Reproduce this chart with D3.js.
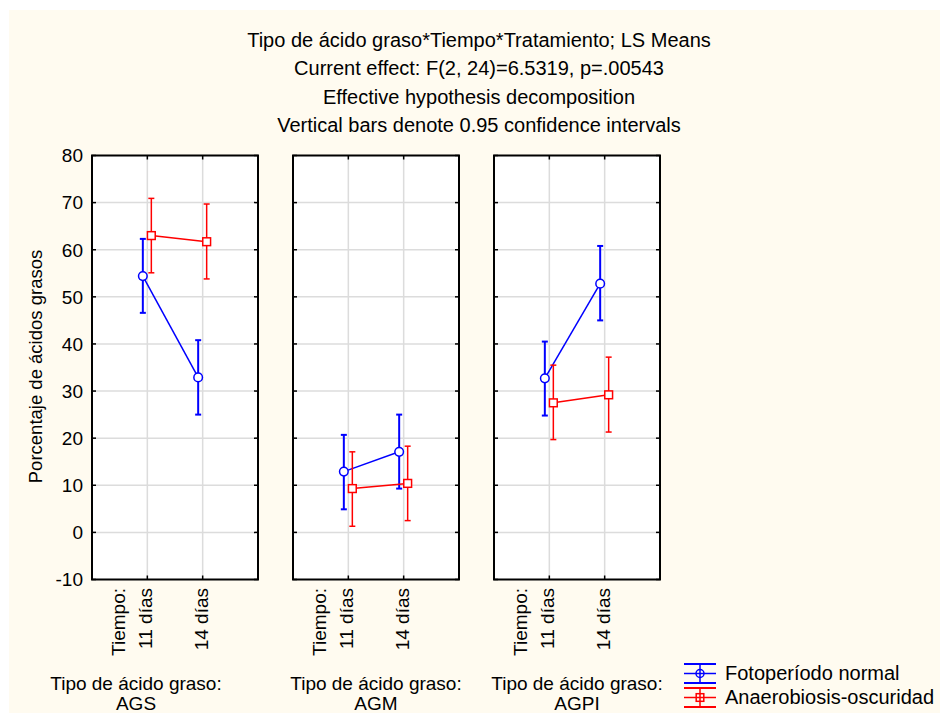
<!DOCTYPE html>
<html>
<head>
<meta charset="utf-8">
<script src="https://cdn.jsdelivr.net/npm/d3@7"></script>
<style>
  html, body { margin: 0; padding: 0; background: #ffffff; }
  svg { display: block; }
  text { font-family: "Liberation Sans", Arial, sans-serif; fill: #000; }
</style>
</head>
<body>
<svg id="chart" width="940" height="713"></svg>
<script>
// Fatty acid type x time x treatment, least-squares means with 0.95 CIs
const titleLines = [
  "Tipo de ácido graso*Tiempo*Tratamiento; LS Means",
  "Current effect: F(2, 24)=6.5319, p=.00543",
  "Effective hypothesis decomposition",
  "Vertical bars denote 0.95 confidence intervals"
];
const tipos = ["AGS", "AGM", "AGPI"];
const tiempos = ["11 días", "14 días"];
const tratamientos = ["Fotoperíodo normal", "Anaerobiosis-oscuridad"];
const yTicks = [-10, 0, 10, 20, 30, 40, 50, 60, 70, 80];

// values ordered AGS(11,14), AGM(11,14), AGPI(11,14)
const mediaFoto  = [54.4, 32.9, 12.9, 17.1, 32.7, 52.8];
const infFoto    = [46.6, 25.0,  4.9,  9.3, 24.8, 45.0];
const supFoto    = [62.3, 40.8, 20.7, 25.0, 40.5, 60.8];
const mediaAnaer = [63.0, 61.7,  9.3, 10.4, 27.5, 29.2];
const infAnaer   = [55.1, 53.8,  1.3,  2.5, 19.7, 21.3];
const supAnaer   = [70.9, 69.7, 17.1, 18.3, 35.5, 37.2];

const series = [
  { name: tratamientos[0], color: "#0000ff", shape: "circle", dx: -4.5, barW: 2, lineW: 1.5,
    mean: mediaFoto, lo: infFoto, hi: supFoto },
  { name: tratamientos[1], color: "#ff0000", shape: "square", dx: 4, barW: 1.5, lineW: 1.5,
    mean: mediaAnaer, lo: infAnaer, hi: supAnaer }
];

const svg = d3.select("#chart");

// cream page background
svg.append("rect").attr("x", 9).attr("y", 10).attr("width", 931).attr("height", 703)
  .attr("fill", "#fffbf0");

// title block
svg.append("g").selectAll("text").data(titleLines).join("text")
  .attr("x", 479).attr("y", (d, i) => 47 + i * 28.3)
  .attr("text-anchor", "middle").style("font-size", "20px")
  .text(d => d);

const plotTop = 155.5, plotBottom = 579.5;
const panelW = 166, panelStep = 201, panelX0 = 92;
const y = d3.scaleLinear().domain([-10, 80]).range([plotBottom, plotTop]);
const panelScale = d3.scaleBand().domain(tipos).range([panelX0, panelX0 + panelStep * tipos.length]);

tipos.forEach((tipo, p) => {
  const left = panelScale(tipo);
  const right = left + panelW;
  const x = d3.scalePoint().domain(tiempos).range([left, right]).padding(1);
  const g = svg.append("g");

  g.append("rect").attr("x", left).attr("y", plotTop).attr("width", panelW).attr("height", plotBottom - plotTop)
    .attr("fill", "#ffffff");

  // grid
  g.append("g").selectAll("line").data(yTicks.slice(1, -1)).join("line")
    .attr("x1", left).attr("x2", right).attr("y1", d => y(d)).attr("y2", d => y(d))
    .attr("stroke", "#dcdcdc").attr("stroke-width", 1.5);
  g.append("g").selectAll("line").data(tiempos).join("line")
    .attr("x1", d => x(d)).attr("x2", d => x(d)).attr("y1", plotTop).attr("y2", plotBottom)
    .attr("stroke", "#dcdcdc").attr("stroke-width", 1.5);

  // inward ticks on every side
  const tk = g.append("g").attr("stroke", "#000").attr("stroke-width", 1.5);
  tk.selectAll(".tl").data(yTicks).join("line").attr("class", "tl")
    .attr("x1", left).attr("x2", left + 4).attr("y1", d => y(d)).attr("y2", d => y(d));
  tk.selectAll(".tr").data(yTicks).join("line").attr("class", "tr")
    .attr("x1", right - 4).attr("x2", right).attr("y1", d => y(d)).attr("y2", d => y(d));
  tk.selectAll(".tb").data(tiempos).join("line").attr("class", "tb")
    .attr("x1", d => x(d)).attr("x2", d => x(d)).attr("y1", plotBottom).attr("y2", plotBottom - 4);
  tk.selectAll(".tt").data(tiempos).join("line").attr("class", "tt")
    .attr("x1", d => x(d)).attr("x2", d => x(d)).attr("y1", plotTop).attr("y2", plotTop + 4);

  // frame
  g.append("rect").attr("x", left).attr("y", plotTop).attr("width", panelW).attr("height", plotBottom - plotTop)
    .attr("fill", "none").attr("stroke", "#000").attr("stroke-width", 2);

  // y tick labels on the first panel
  if (p === 0) {
    g.append("g").selectAll("text").data(yTicks).join("text")
      .attr("x", left - 9).attr("y", d => y(d)).attr("dy", "0.36em")
      .attr("text-anchor", "end").style("font-size", "19px")
      .text(d => d);
  }

  // rotated category labels
  const lab = g.append("g").style("font-size", "19px");
  lab.append("text")
    .attr("transform", `translate(${x(tiempos[0]) - 29},${plotBottom + 8.5}) rotate(-90)`)
    .attr("dy", "0.36em").attr("text-anchor", "end").text("Tiempo:");
  lab.selectAll(".cat").data(tiempos).join("text").attr("class", "cat")
    .attr("transform", d => `translate(${x(d) - 2},${plotBottom + 8.5}) rotate(-90)`)
    .attr("dy", "0.36em").attr("text-anchor", "end").text(d => d);

  // panel factor label
  const cx = p === 0 ? left + 44 : left + panelW / 2;
  g.append("text").attr("x", cx).attr("y", 690).attr("text-anchor", "middle")
    .style("font-size", "19px").text("Tipo de ácido graso:");
  g.append("text").attr("x", cx).attr("y", 710).attr("text-anchor", "middle")
    .style("font-size", "19px").text(tipo);

  // series
  series.forEach(s => {
    const pts = tiempos.map((t, j) => ({
      x: x(t) + s.dx,
      m: s.mean[p * 2 + j], lo: s.lo[p * 2 + j], hi: s.hi[p * 2 + j]
    }));
    const sg = g.append("g");
    sg.append("path")
      .attr("d", d3.line().x(d => d.x).y(d => y(d.m))(pts))
      .attr("fill", "none").attr("stroke", s.color).attr("stroke-width", s.lineW);
    const eb = sg.append("g").attr("stroke", s.color).attr("stroke-width", s.barW);
    eb.selectAll(".v").data(pts).join("line").attr("class", "v")
      .attr("x1", d => d.x).attr("x2", d => d.x).attr("y1", d => y(d.lo)).attr("y2", d => y(d.hi));
    eb.selectAll(".ch").data(pts).join("line").attr("class", "ch")
      .attr("x1", d => d.x - 3).attr("x2", d => d.x + 3).attr("y1", d => y(d.hi)).attr("y2", d => y(d.hi));
    eb.selectAll(".cl").data(pts).join("line").attr("class", "cl")
      .attr("x1", d => d.x - 3).attr("x2", d => d.x + 3).attr("y1", d => y(d.lo)).attr("y2", d => y(d.lo));
    if (s.shape === "circle") {
      sg.selectAll("circle").data(pts).join("circle")
        .attr("cx", d => d.x).attr("cy", d => y(d.m)).attr("r", 4.3)
        .attr("fill", "#ffffff").attr("stroke", s.color).attr("stroke-width", 1.5);
    } else {
      sg.selectAll("rect").data(pts).join("rect")
        .attr("x", d => d.x - 3.9).attr("y", d => y(d.m) - 3.9).attr("width", 7.8).attr("height", 7.8)
        .attr("fill", "#ffffff").attr("stroke", s.color).attr("stroke-width", 1.5);
    }
  });
});

// y axis title
svg.append("text")
  .attr("transform", `translate(35,${(plotTop + plotBottom) / 2 - 1}) rotate(-90)`)
  .attr("dy", "0.36em").attr("text-anchor", "middle").style("font-size", "18.5px")
  .text("Porcentaje de ácidos grasos");

// legend
const leg = svg.append("g");
series.forEach((s, i) => {
  const y0 = 664 + i * 24, y1 = y0 + 19, ym = (y0 + y1) / 2, x0 = 684, x1 = 716, xm = (x0 + x1) / 2;
  const lg = leg.append("g").attr("stroke", s.color).attr("stroke-width", 1.5);
  lg.append("line").attr("x1", x0).attr("x2", x1).attr("y1", y0).attr("y2", y0).attr("stroke-width", 2);
  lg.append("line").attr("x1", x0).attr("x2", x1).attr("y1", y1).attr("y2", y1).attr("stroke-width", 2);
  lg.append("line").attr("x1", x0).attr("x2", x1).attr("y1", ym).attr("y2", ym);
  lg.append("line").attr("x1", xm).attr("x2", xm).attr("y1", y0).attr("y2", y1);
  if (s.shape === "circle") {
    lg.append("circle").attr("cx", xm).attr("cy", ym).attr("r", 4).attr("fill", "none");
  } else {
    lg.append("rect").attr("x", xm - 3.8).attr("y", ym - 3.8).attr("width", 7.6).attr("height", 7.6).attr("fill", "none");
  }
  leg.append("text").attr("x", 725).attr("y", 679.5 + i * 24).style("font-size", "20px").text(s.name);
});
</script>
</body>
</html>
